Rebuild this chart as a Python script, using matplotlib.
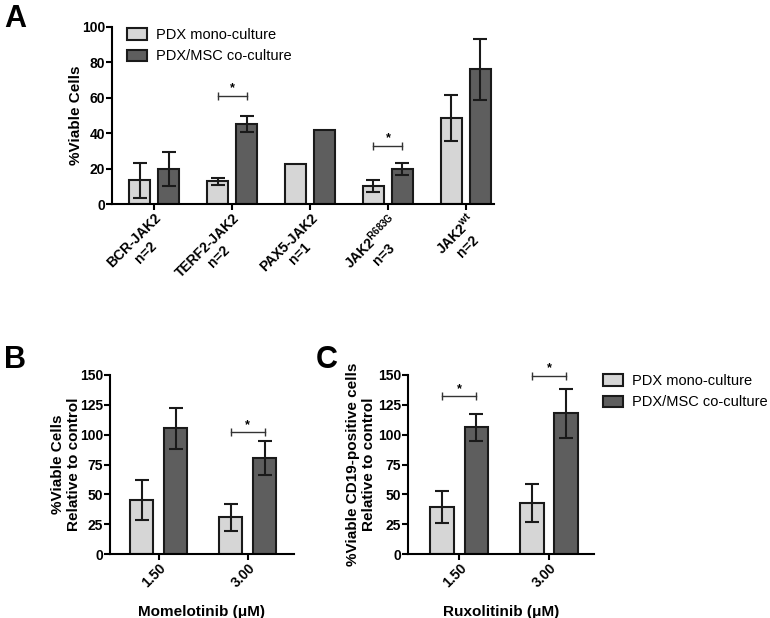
import matplotlib
matplotlib.use("Agg")
import matplotlib.pyplot as plt
import numpy as np

plt.rcParams['font.family'] = ['Liberation Sans', 'DejaVu Sans']
plt.rcParams['mathtext.fontset'] = 'custom'
plt.rcParams['mathtext.rm'] = 'Liberation Sans:bold'
plt.rcParams['mathtext.it'] = 'Liberation Sans:bold'
plt.rcParams['mathtext.bf'] = 'Liberation Sans:bold'

LIGHT = '#d6d6d6'
DARK = '#5e5e5e'

# Panel A data
a_labels = ['BCR-JAK2\nn=2', 'TERF2-JAK2\nn=2', 'PAX5-JAK2\nn=1',
            'JAK2$^{\\mathregular{R683G}}$\nn=3', 'JAK2$^{\\mathregular{wt}}$\nn=2']
a_mono = [13.3, 12.8, 22.5, 10.2, 48.4]
a_mono_err = [10.0, 1.8, 0, 3.3, 13.0]
a_co = [19.8, 45.0, 41.7, 19.8, 76.0]
a_co_err = [9.7, 4.6, 0, 3.3, 17.0]
a_sig = {1: 61.2, 3: 33.0}

# Panel B data (Momelotinib)
b_labels = ['1.50', '3.00']
b_mono = [45.6, 30.6]
b_mono_err = [16.7, 11.1]
b_co = [105.3, 80.3]
b_co_err = [16.9, 14.0]
b_sig = {1: 102.0}

# Panel C data (Ruxolitinib)
c_labels = ['1.50', '3.00']
c_mono = [39.4, 42.8]
c_mono_err = [13.2, 16.1]
c_co = [106.1, 117.8]
c_co_err = [11.4, 20.3]
c_sig = {0: 132.5, 1: 149.5}

W, H = 770, 618
fig = plt.figure(figsize=(W / 100, H / 100), dpi=100)


def px_axes(x0, x1, y0, y1):
    return fig.add_axes([x0 / W, 1 - y1 / H, (x1 - x0) / W, (y1 - y0) / H])


def style(ax):
    for s in ['top', 'right']:
        ax.spines[s].set_visible(False)
    for s in ['left', 'bottom']:
        ax.spines[s].set_linewidth(1.5)
    ax.tick_params(width=1.5, length=4, labelsize=10, pad=1)
    for t in ax.get_yticklabels():
        t.set_fontweight('bold')


def bars(ax, mono, mono_err, co, co_err, sig, off, w):
    x = np.arange(len(mono))
    ek = dict(ecolor='#1a1a1a', capsize=5, elinewidth=1.5, capthick=1.5)
    me = [e if e > 0 else np.nan for e in mono_err]
    ce = [e if e > 0 else np.nan for e in co_err]
    ax.bar(x - off, mono, w, color=LIGHT, edgecolor='#1a1a1a', linewidth=1.5,
           label='PDX mono-culture', zorder=2)
    ax.bar(x + off, co, w, color=DARK, edgecolor='#1a1a1a', linewidth=1.5,
           label='PDX/MSC co-culture', zorder=2)
    ax.errorbar(x - off, mono, yerr=me, fmt='none', zorder=3, **ek)
    ax.errorbar(x + off, co, yerr=ce, fmt='none', zorder=3, **ek)
    for i, yv in sig.items():
        ax.plot([i - off, i + off], [yv, yv], color='#333333', lw=1.0,
                marker='|', markersize=6, markeredgewidth=1.0, clip_on=False)
        ax.text(i, yv + 1, '*', ha='center', va='bottom', fontsize=9, fontweight='bold')


leg_kw = dict(frameon=False, fontsize=10.5, handlelength=1.4, handleheight=0.8,
              handletextpad=0.6, labelspacing=0.5, borderaxespad=0,
              borderpad=0)

# Panel A
axA = px_axes(112, 494, 27, 204)
bars(axA, a_mono, a_mono_err, a_co, a_co_err, a_sig, 0.186, 0.27)
axA.set_xlim(-0.54, 4.36)
axA.set_ylim(0, 100)
axA.set_yticks([0, 20, 40, 60, 80, 100])
axA.set_xticks(range(len(a_labels)))
axA.set_xticklabels(a_labels, rotation=45, ha='right', va='top',
                    rotation_mode='anchor', multialignment='center',
                    fontsize=10, fontweight='bold')
axA.set_ylabel('%Viable Cells', fontsize=11, fontweight='bold', labelpad=-1)
style(axA)
axA.legend(loc='upper left', bbox_to_anchor=(127 / W, 1 - 28 / H),
           bbox_transform=fig.transFigure, **leg_kw)

# Panel B
axB = px_axes(110, 294, 375, 554)
bars(axB, b_mono, b_mono_err, b_co, b_co_err, b_sig, 0.19, 0.26)
axB.set_xlim(-0.547, 1.52)
axB.set_ylim(0, 150)
axB.set_yticks([0, 25, 50, 75, 100, 125, 150])
axB.set_xticks(range(len(b_labels)))
axB.set_xticklabels(b_labels, rotation=45, ha='right', va='top',
                    rotation_mode='anchor', fontsize=10, fontweight='bold')
axB.set_ylabel('%Viable Cells\nRelative to control', fontsize=11,
               fontweight='bold', labelpad=-1)
axB.set_xlabel('Momelotinib (μM)', fontsize=11, fontweight='bold', labelpad=11)
style(axB)

# Panel C
axC = px_axes(408, 594, 375, 554)
bars(axC, c_mono, c_mono_err, c_co, c_co_err, c_sig, 0.19, 0.26)
axC.set_xlim(-0.57, 1.5)
axC.set_ylim(0, 150)
axC.set_yticks([0, 25, 50, 75, 100, 125, 150])
axC.set_xticks(range(len(c_labels)))
axC.set_xticklabels(c_labels, rotation=45, ha='right', va='top',
                    rotation_mode='anchor', fontsize=10, fontweight='bold')
axC.set_ylabel('%Viable CD19-positive cells\nRelative to control', fontsize=11,
               fontweight='bold', labelpad=1)
axC.set_xlabel('Ruxolitinib (μM)', fontsize=11, fontweight='bold', labelpad=11)
style(axC)
axC.legend(loc='upper left', bbox_to_anchor=(603 / W, 1 - 374 / H),
           bbox_transform=fig.transFigure, **leg_kw)

# Panel letters
fig.text(4 / W, 1 - 4 / H, 'A', fontsize=22, fontweight='bold', va='top')
fig.text(4 / W, 1 - 345 / H, 'B', fontsize=22, fontweight='bold', va='top')
fig.text(316 / W, 1 - 345 / H, 'C', fontsize=22, fontweight='bold', va='top')

fig.savefig('out.png', dpi=100, facecolor='white')
